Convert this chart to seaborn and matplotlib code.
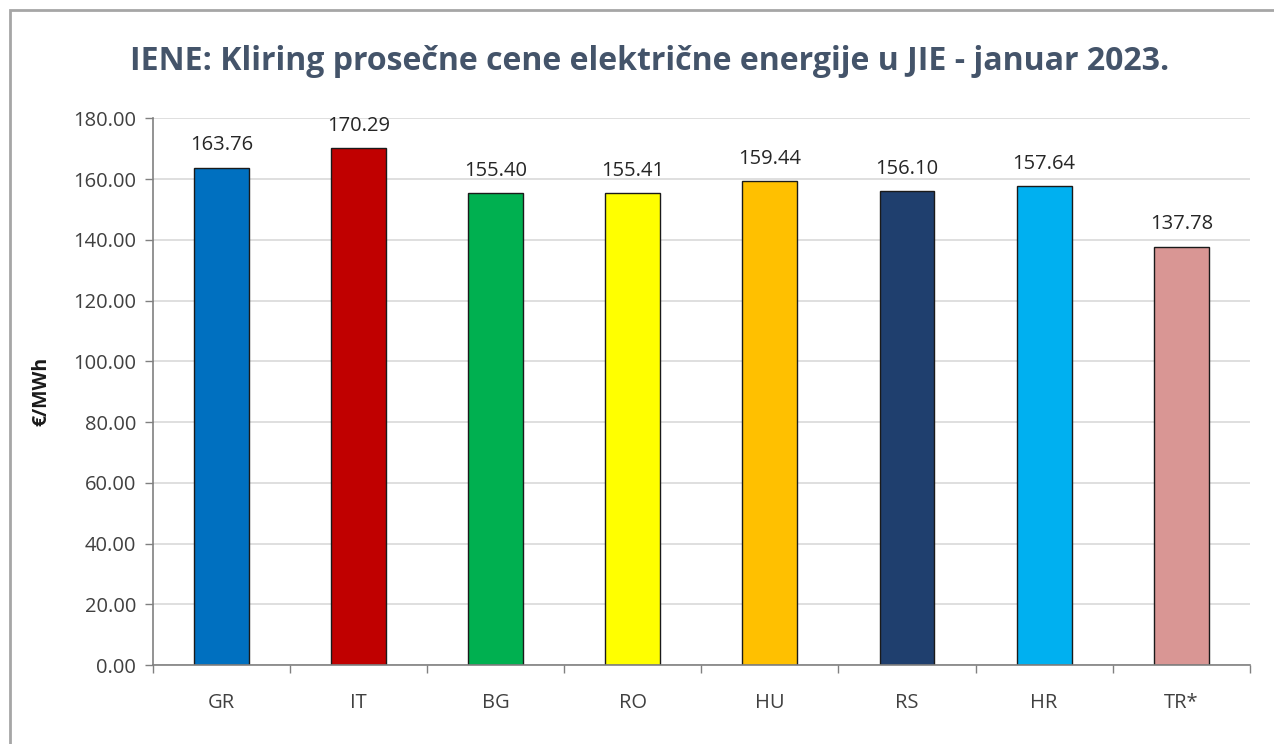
import matplotlib
matplotlib.use("Agg")
import matplotlib.pyplot as plt
import seaborn as sns
import pandas as pd
from matplotlib.patches import Rectangle

countries = ["GR", "IT", "BG", "RO", "HU", "RS", "HR", "TR*"]
prices = [163.76, 170.29, 155.40, 155.41, 159.44, 156.10, 157.64, 137.78]
bar_colors = ["#0070C0", "#C00000", "#00B050", "#FFFF00", "#FFC000", "#1F3F6E", "#00B0F0", "#D99694"]

df = pd.DataFrame({"country": countries, "price": prices})

sns.set_theme(style="white")
plt.rcParams['font.family'] = ['Open Sans', 'DejaVu Sans']

fig = plt.figure(figsize=(12.74, 7.44), dpi=100)
fig.patch.set_facecolor("white")
fig.patches.append(Rectangle((0.008, -0.01), 1.0, 0.997, transform=fig.transFigure,
                             fill=False, edgecolor="#A6A6A6", linewidth=2.0))

ax = fig.add_axes([0.120, 0.106, 0.861, 0.735])
sns.barplot(data=df, x="country", y="price", hue="country", palette=bar_colors,
            saturation=1, width=0.4, edgecolor="#1a1a1a", linewidth=1.0, legend=False, ax=ax)

ax.set_ylim(0, 180)
ax.set_xlim(-0.5, len(countries) - 0.5)
ax.set_yticks(range(0, 181, 20))
ax.set_yticklabels([f"{v:.2f}" for v in range(0, 181, 20)], fontsize=14.5, color="#404040")
ax.tick_params(axis="x", which="major", bottom=False, length=0, labelsize=14.5,
               labelcolor="#404040", pad=20)
ax.tick_params(axis="y", left=True, length=6, width=1, color="#808080", direction="out", pad=6)
ax.set_xticks([i - 0.5 for i in range(len(countries) + 1)], minor=True)
ax.tick_params(axis="x", which="minor", bottom=True, length=6, width=1, color="#808080", direction="out")

ax.yaxis.grid(True, color="#D9D9D9", linewidth=1.2)
ax.set_axisbelow(True)
for side in ["top", "right"]:
    ax.spines[side].set_visible(False)
for side in ["left", "bottom"]:
    ax.spines[side].set_color("#808080")
    ax.spines[side].set_linewidth(1.2)

ax.set_xlabel("")
ax.set_ylabel("€/MWh", fontsize=14, fontweight="bold", color="#1a1a1a", labelpad=16)

for i, v in enumerate(prices):
    ax.text(i, v + 4, f"{v:.2f}", ha="center", va="bottom", fontsize=14.5, color="#262626")

fig.text(0.51, 0.918, "IENE: Kliring prosečne cene električne energije u JIE - januar 2023.",
         ha="center", va="center", fontsize=23, fontweight="bold", color="#44546A")

fig.savefig("out.png", dpi=100)
